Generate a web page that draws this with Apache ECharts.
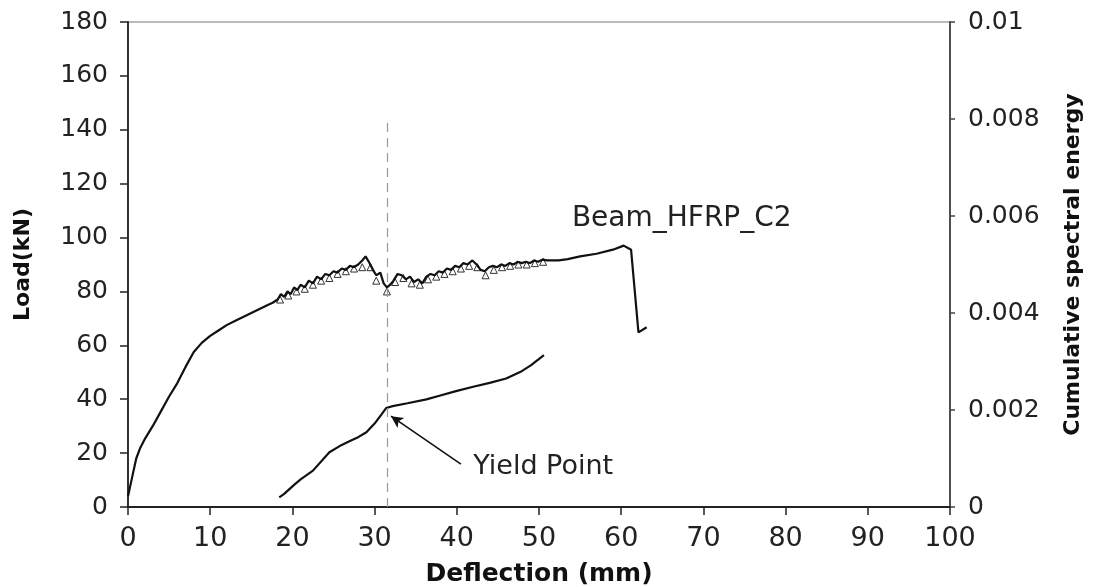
<!DOCTYPE html>
<html><head><meta charset="utf-8">
<script src="https://cdn.jsdelivr.net/npm/echarts@6/dist/echarts.min.js"></script>
<style>html,body{margin:0;padding:0;background:#fff}#c{width:1098px;height:587px}</style>
</head><body><div id="c"></div>
<script>
// Load vs deflection (left axis)
const loadX = [0,0.5,1,1.5,2,3,4,5,6,7,8,9,10,11,12,13,14,15,16,17,17.6,18.2,18.6,19,19.4,19.8,20.2,20.6,21,21.5,22,22.5,23,23.5,24,24.5,25,25.5,26,26.5,27,27.5,28,28.5,28.9,29.3,29.8,30.2,30.7,31.1,31.5,31.9,32.3,32.8,33.3,33.8,34.3,34.8,35.3,35.8,36.3,36.8,37.3,37.8,38.3,38.8,39.3,39.8,40.3,40.8,41.3,41.9,42.4,42.9,43.4,43.9,44.4,44.9,45.4,45.9,46.4,46.9,47.4,47.9,48.4,48.9,49.4,49.9,50.4,51,52.4,53.5,55,57,59,60.3,61.2,62.1,63.1];
const loadY = [4,11,18,22,25,30,35.5,41,46,52,57.5,61,63.5,65.5,67.5,69,70.5,72,73.5,75,75.8,77,79,78,80,79,81.5,80.5,82.5,81.5,84,83,85.5,84.5,86.5,86,87.5,87,88.5,88,89.5,89,90,91.5,93,91,88,86,87,83,81.5,82.5,84,86.5,86,84.5,85.5,83.5,84.5,83,85.5,86.5,86,87.5,87,88.5,88,89.5,89,90.5,90,91.5,90,88,87.5,89,89.5,89,90,89.5,90.5,90,91,90.5,91,90.5,91.5,91,91.8,91.5,91.5,92,93,94,95.5,97,95.5,64.8,66.7];
// Triangle-marked load readings
const triX = [18.5,19.5,20.5,21.5,22.5,23.5,24.5,25.5,26.5,27.5,28.5,29.5,30.2,31.5,32.5,33.5,34.5,35.5,36.5,37.5,38.5,39.5,40.5,41.5,42.5,43.5,44.5,45.5,46.5,47.5,48.5,49.5,50.5];
const triY = [77,78.5,80,81,82.5,84,85,86.5,87.5,88.5,89,89,84,80,83.5,85,83,82.5,84.5,85.5,86.5,87.5,88.5,89.5,89,86,88,89,89.5,90,90,90.5,91];
// Cumulative spectral energy (right axis)
const energyX = [18.4,19,20.1,21,22.5,24.5,26,27,28,29,30,30.8,31.4,32.2,34,36.3,38,39.9,42,44,46,47.9,49,50.6];
const energyY = [0.0002,0.00027,0.00044,0.00057,0.00075,0.00113,0.00128,0.00136,0.00144,0.00154,0.00172,0.0019,0.00204,0.00208,0.00214,0.00222,0.0023,0.00239,0.00248,0.00256,0.00265,0.0028,0.00292,0.00313];
// Annotations (data units)
const yieldLineX = 31.5, yieldLineTop = 143;
const arrowTail = [40.5, 15.9], arrowHead = [32.0, 33.7];
const yieldLabelPos = [42.0, 14.8];
const beamLabelPos = [54.0, 107.0];
const xTicks = {min:0, max:100, interval:10};
const loadTicks = {min:0, max:180, interval:20};
const energyTicks = {min:0, max:0.01, interval:0.002};

const zip = (a,b)=>a.map((v,i)=>[v,b[i]]);
const F = 'DejaVu Sans, Liberation Sans, sans-serif';
const chart = echarts.init(document.getElementById('c'));
chart.setOption({
  animation:false,
  backgroundColor:'#fff',
  grid:{left:128,right:148,top:22,bottom:80,containLabel:false,outerBoundsMode:'none',
        show:true,borderColor:'#777',borderWidth:1},
  xAxis:{type:'value',min:xTicks.min,max:xTicks.max,interval:xTicks.interval,
    axisLine:{lineStyle:{color:'#222',width:1.8}},
    axisTick:{inside:false,length:8,lineStyle:{color:'#222',width:1.5}},
    axisLabel:{fontSize:27,fontFamily:F,color:'#222',margin:18},
    splitLine:{show:false},
    name:'Deflection (mm)',nameLocation:'middle',nameGap:55,
    nameTextStyle:{fontSize:25,fontWeight:'bold',fontFamily:F,color:'#111'}},
  yAxis:[
    {type:'value',min:loadTicks.min,max:loadTicks.max,interval:loadTicks.interval,
     axisLine:{show:true,lineStyle:{color:'#222',width:1.8}},
     axisTick:{show:true,inside:false,length:8,lineStyle:{color:'#222',width:1.5}},
     axisLabel:{fontSize:25,fontFamily:F,color:'#222',margin:20},
     splitLine:{show:false},
     name:'Load(kN)',nameLocation:'middle',nameGap:94,
     nameTextStyle:{fontSize:22,fontWeight:'bold',fontFamily:F,color:'#111'}},
    {type:'value',min:energyTicks.min,max:energyTicks.max,interval:energyTicks.interval,position:'right',
     axisLine:{show:true,lineStyle:{color:'#444',width:1.8}},
     axisTick:{show:true,inside:false,length:5,lineStyle:{color:'#444',width:1.5}},
     axisLabel:{fontSize:25,fontFamily:F,color:'#222',margin:18},
     splitLine:{show:false},
     name:'Cumulative spectral energy',nameLocation:'middle',nameGap:112,nameRotate:90,
     nameTextStyle:{fontSize:22,fontWeight:'bold',fontFamily:F,color:'#111'}}
  ],
  series:[
    {type:'line',name:'Load',data:zip(loadX,loadY),showSymbol:false,symbol:'none',
     lineStyle:{color:'#111',width:2.2},z:3,
     markLine:{silent:true,symbol:['none','none'],label:{show:false},
       lineStyle:{color:'#999',type:[9,6],width:1.2},
       data:[[{coord:[yieldLineX,0]},{coord:[yieldLineX,yieldLineTop]}]]}},
    {type:'scatter',name:'Load markers',data:zip(triX,triY),symbol:'triangle',symbolSize:7,
     itemStyle:{color:'#fff',borderColor:'#333',borderWidth:1,opacity:1},z:2},
    {type:'line',name:'Energy',yAxisIndex:1,data:zip(energyX,energyY),showSymbol:false,symbol:'none',
     lineStyle:{color:'#111',width:2.2},z:3},
    {type:'scatter',name:'labels',data:[
       {value:beamLabelPos,label:{formatter:'Beam_HFRP_C2',fontSize:28}},
       {value:yieldLabelPos,label:{formatter:'Yield Point',fontSize:27}}],
     symbolSize:0,itemStyle:{opacity:1},
     label:{show:true,position:'right',distance:0,fontFamily:F,color:'#222'},
     markLine:{silent:true,symbol:['none','arrow'],symbolSize:[9,12],label:{show:false},
       lineStyle:{color:'#111',type:'solid',width:1.6},
       data:[[{coord:arrowTail},{coord:arrowHead}]]}}
  ]
});
</script></body></html>
